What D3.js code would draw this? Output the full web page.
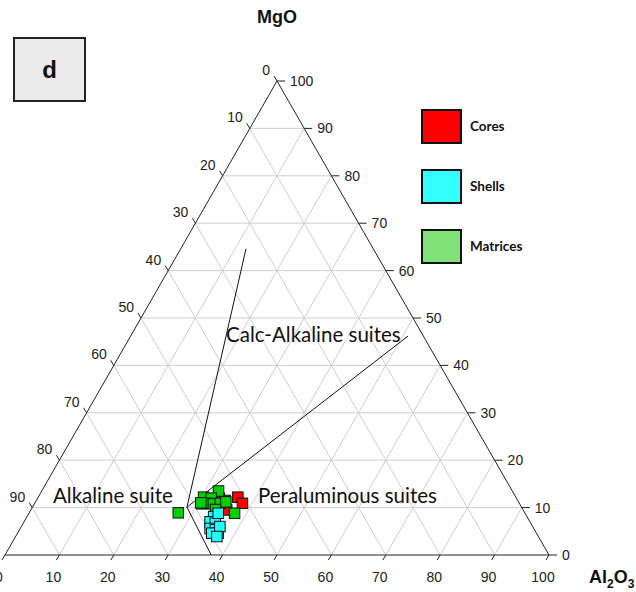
<!DOCTYPE html>
<html>
<head>
<meta charset="utf-8">
<script src="https://cdn.jsdelivr.net/npm/d3@7"></script>
<style>
  html, body { margin: 0; padding: 0; background: #fff; }
  svg { display: block; }
</style>
</head>
<body>
<svg id="chart" width="636" height="592"></svg>
<script>
// Ternary diagram: Al2O3 (bottom axis), MgO (right axis), remainder (left axis)
const tickValues = [0, 10, 20, 30, 40, 50, 60, 70, 80, 90, 100];

// Series values as (Al2O3 %, MgO %); remainder is 100 - Al2O3 - MgO
const coresAl2O3 = [33.4, 34.7, 36.7, 38.2, 36.0];
const coresMgO   = [12.0, 11.5, 12.2, 10.9, 9.5];

const matricesAl2O3 = [32.5, 30.4, 31.9, 30.8, 31.6, 32.9, 34.1, 35.0, 37.8, 33.9, 27.4, 30.5];
const matricesMgO   = [13.5, 12.2, 12.0, 10.8, 10.9, 10.8, 10.9, 11.2, 8.8, 9.6, 8.9, 11.0];

const shellsAl2O3 = [34.3, 34.2, 35.3, 34.9, 36.0, 36.9, 35.7, 36.5, 37.0, 34.8];
const shellsMgO   = [8.1, 7.0, 6.7, 5.6, 5.3, 4.6, 4.6, 6.0, 3.9, 8.8];

// Field boundaries (Al2O3 %, MgO %) radiating from a common junction
const junction = [28.4, 10.1];
const boundaryEndsAl2O3 = [12.0, 51.0, 37.9];
const boundaryEndsMgO   = [64.6, 46.2, 0.0];

const legendNames  = ["Cores", "Shells", "Matrices"];
const legendColors = ["#ff0000", "#33ffff", "#80e278"];

const svg = d3.select("#chart");

// Cartesian scales; a ternary point maps to (Al2O3 + MgO/2, MgO)
const xs = d3.scaleLinear().domain([0, 100]).range([5, 549]);
const ys = d3.scaleLinear().domain([0, 100]).range([555, 81]);
const px = (al, mg) => xs(al + mg / 2);
const py = (al, mg) => ys(mg);

// Grid lines
const grid = svg.append("g").attr("stroke", "#cfcfcf").attr("stroke-width", 1).attr("fill", "none");
const inner = tickValues.filter(v => v > 0 && v < 100);
inner.forEach(k => {
  // constant MgO
  grid.append("line").attr("x1", px(0, k)).attr("y1", py(0, k)).attr("x2", px(100 - k, k)).attr("y2", py(100 - k, k));
  // constant Al2O3
  grid.append("line").attr("x1", px(k, 0)).attr("y1", py(k, 0)).attr("x2", px(k, 100 - k)).attr("y2", py(k, 100 - k));
  // constant remainder
  grid.append("line").attr("x1", px(100 - k, 0)).attr("y1", py(100 - k, 0)).attr("x2", px(0, 100 - k)).attr("y2", py(0, 100 - k));
});

// Triangle outline
const corners = [[0, 0], [100, 0], [0, 100]];
svg.append("path")
  .attr("d", d3.line()(corners.map(c => [px(c[0], c[1]), py(c[0], c[1])])) + "Z")
  .attr("fill", "none").attr("stroke", "#222").attr("stroke-width", 1);

// Ticks and tick labels
const axisG = svg.append("g").attr("font-family", "Arial, 'Liberation Sans', sans-serif")
  .attr("font-size", 14).attr("fill", "#222");
const tickStroke = "#222";
tickValues.forEach(v => {
  // Right axis: MgO, horizontal ticks
  const rx = px(100 - v, v), ry = py(100 - v, v);
  axisG.append("line").attr("x1", rx).attr("y1", ry).attr("x2", rx + 8).attr("y2", ry).attr("stroke", tickStroke);
  axisG.append("text").attr("x", rx + 13).attr("y", ry).attr("dy", "0.35em").text(v);

  // Bottom axis: Al2O3, ticks along lines parallel to the left edge
  const bx = px(v, 0), by = py(v, 0);
  axisG.append("line").attr("x1", bx).attr("y1", by).attr("x2", bx - 3).attr("y2", by + 5).attr("stroke", tickStroke);
  axisG.append("text").attr("x", bx - 6).attr("y", by + 22).attr("dy", "0.35em").attr("text-anchor", "middle").text(v);

  // Left axis: remainder, ticks along lines parallel to the right edge
  if (v < 100) {
    const lx = px(0, 100 - v), ly = py(0, 100 - v);
    axisG.append("line").attr("x1", lx).attr("y1", ly).attr("x2", lx - 3).attr("y2", ly - 5).attr("stroke", tickStroke);
    axisG.append("text").attr("x", lx - 7).attr("y", ly - 11).attr("dy", "0.35em").attr("text-anchor", "end").text(v);
  }
});

// Axis titles
const titleFont = "Arial, 'Liberation Sans', sans-serif";
svg.append("text").attr("x", 277).attr("y", 23).attr("text-anchor", "middle")
  .attr("font-family", titleFont).attr("font-weight", "bold").attr("font-size", 18).attr("fill", "#111").text("MgO");
const al = svg.append("text").attr("x", 589).attr("y", 583)
  .attr("font-family", titleFont).attr("font-weight", "bold").attr("font-size", 18).attr("fill", "#111");
al.append("tspan").text("Al");
al.append("tspan").attr("font-size", 12).attr("dy", 5).text("2");
al.append("tspan").attr("dy", -5).text("O");
al.append("tspan").attr("font-size", 12).attr("dy", 5).text("3");

// Field boundary lines
const bnd = svg.append("g").attr("stroke", "#111").attr("stroke-width", 1);
boundaryEndsAl2O3.forEach((a, i) => {
  const m = boundaryEndsMgO[i];
  bnd.append("line")
    .attr("x1", px(junction[0], junction[1])).attr("y1", py(junction[0], junction[1]))
    .attr("x2", px(a, m)).attr("y2", py(a, m));
});

// Field names
const fieldFont = "Lato, 'Open Sans', sans-serif";
const fields = svg.append("g").attr("font-family", fieldFont).attr("font-size", 20.5).attr("fill", "#111");
fields.append("text").attr("x", 226).attr("y", 342).text("Calc-Alkaline suites");
fields.append("text").attr("x", 53).attr("y", 503).text("Alkaline suite");
fields.append("text").attr("x", 258).attr("y", 503).text("Peraluminous suites");

// Data points
const size = 10.5;
function drawSeries(als, mgs, color) {
  svg.append("g").selectAll("rect").data(als.map((a, i) => [a, mgs[i]])).join("rect")
    .attr("x", d => px(d[0], d[1]) - size / 2)
    .attr("y", d => py(d[0], d[1]) - size / 2)
    .attr("width", size).attr("height", size)
    .attr("fill", color).attr("stroke", "#111").attr("stroke-width", 1);
}
drawSeries(coresAl2O3, coresMgO, "#ff0000");
drawSeries(matricesAl2O3, matricesMgO, "#00d000");
drawSeries(shellsAl2O3, shellsMgO, "#22ffff");

// Legend
const legend = svg.append("g");
const legendY = d3.scalePoint().domain(legendNames).range([110, 230]);
legendNames.forEach((name, i) => {
  legend.append("rect").attr("x", 422).attr("y", legendY(name)).attr("width", 39).attr("height", 33)
    .attr("fill", legendColors[i]).attr("stroke", "#111").attr("stroke-width", 2);
  legend.append("text").attr("x", 470).attr("y", legendY(name) + 16).attr("dy", "0.35em")
    .attr("font-family", fieldFont).attr("font-weight", "bold").attr("font-size", 13.5).attr("fill", "#111").text(name);
});

// Panel letter
svg.append("rect").attr("x", 14).attr("y", 38).attr("width", 71).attr("height", 63)
  .attr("fill", "#ebebeb").attr("stroke", "#222").attr("stroke-width", 2);
svg.append("text").attr("x", 49.5).attr("y", 70).attr("dy", "0.35em").attr("text-anchor", "middle")
  .attr("font-family", titleFont).attr("font-weight", "bold").attr("font-size", 24).attr("fill", "#111").text("d");
</script>
</body>
</html>
